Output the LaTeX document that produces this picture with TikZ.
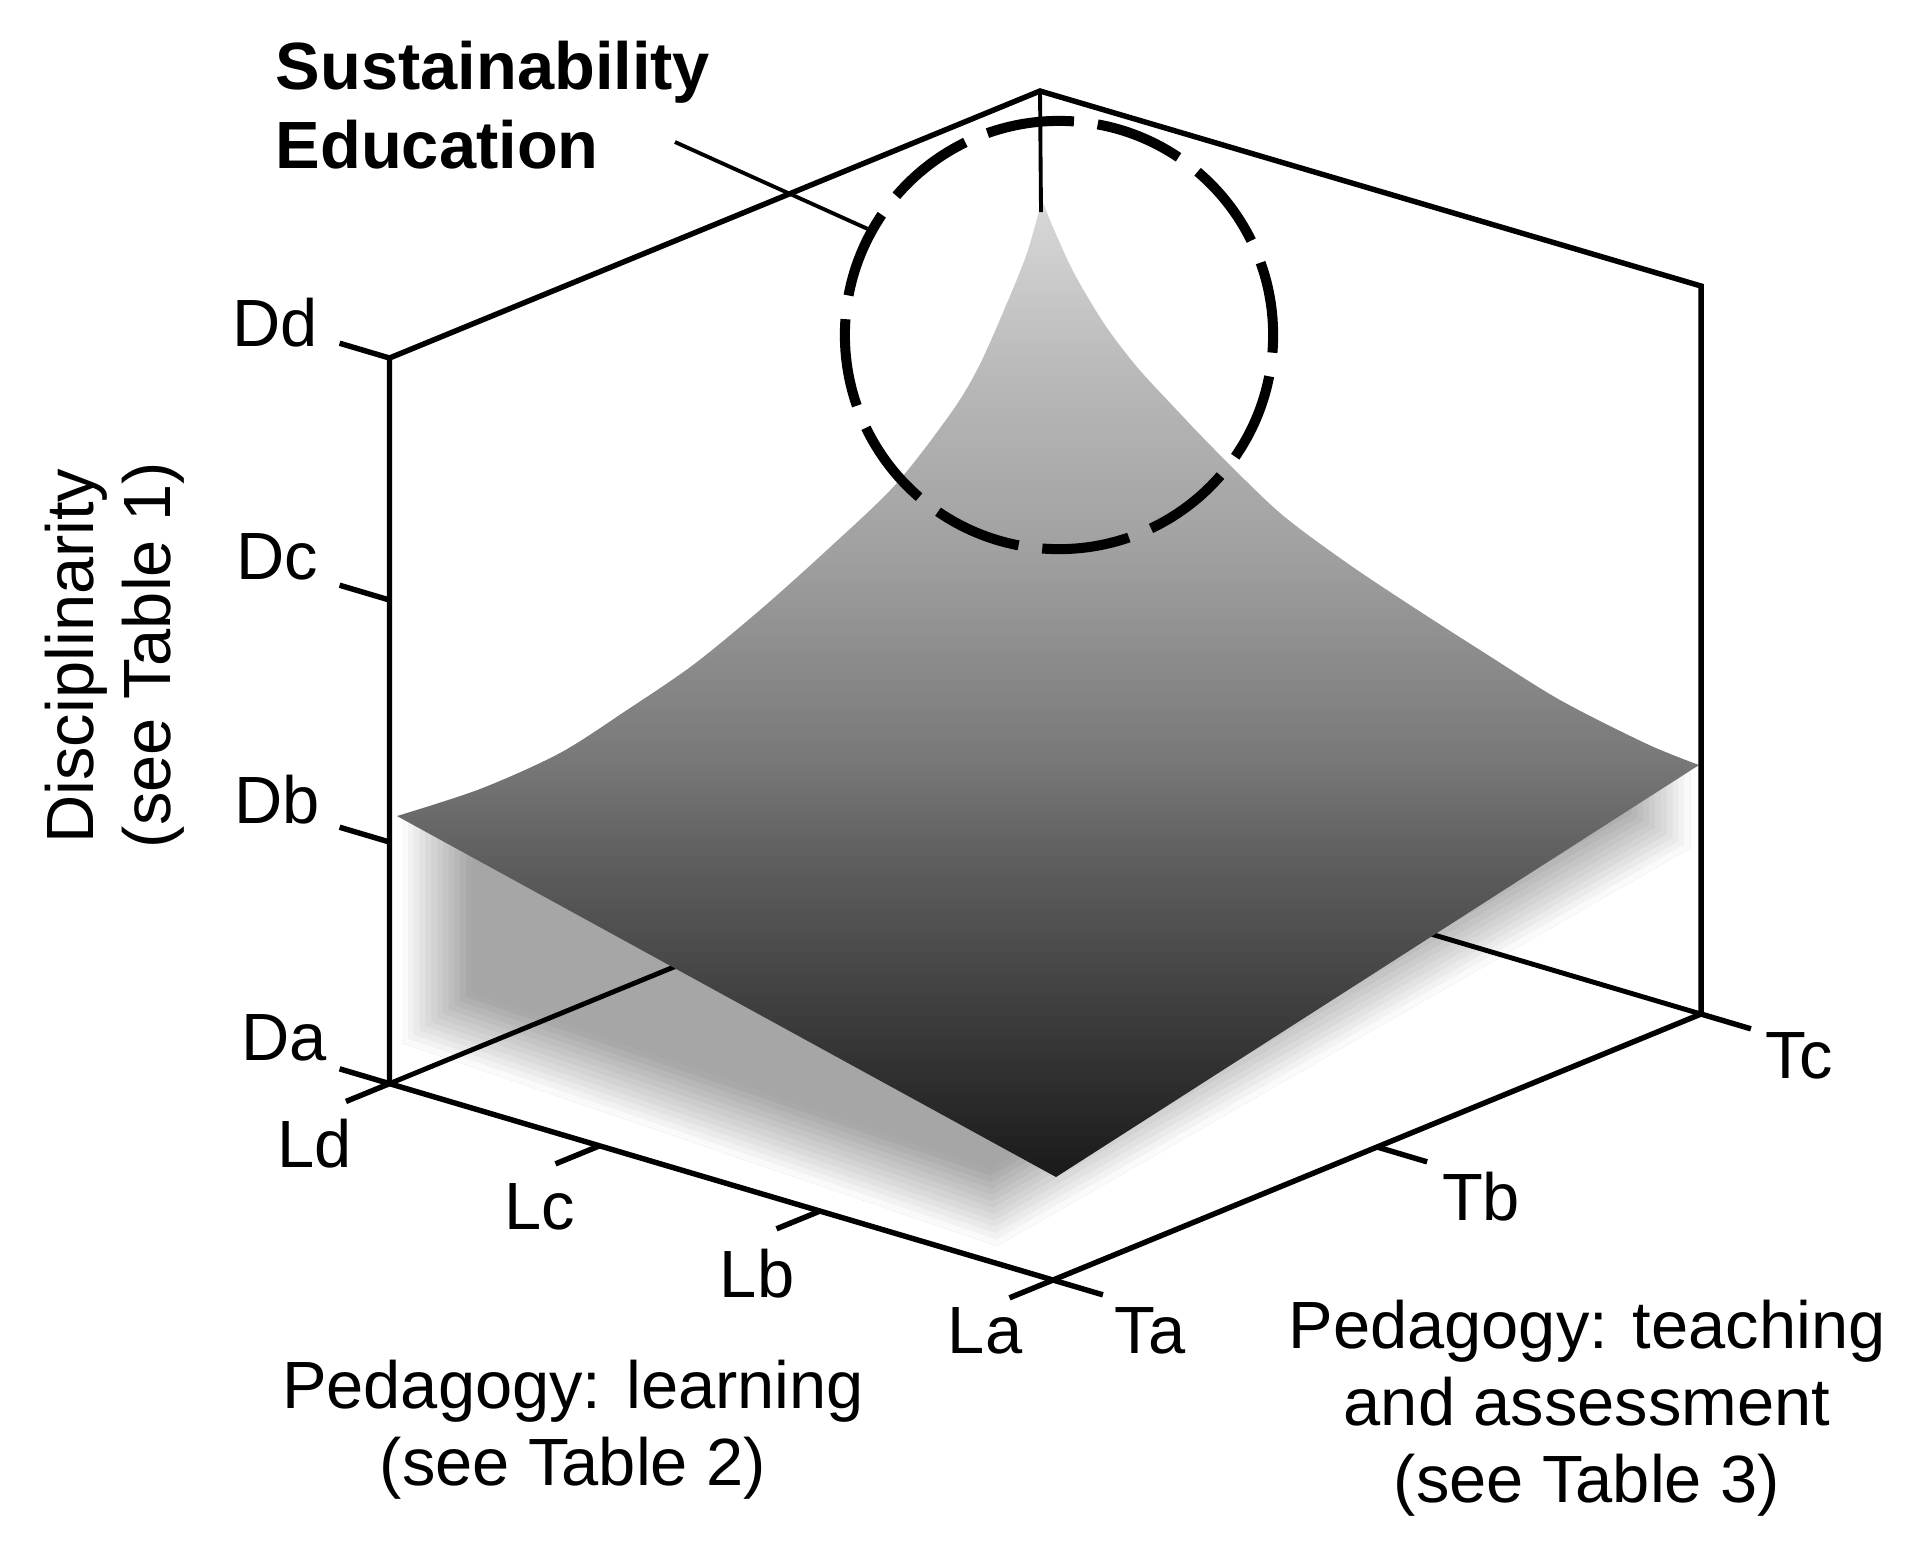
\documentclass[tikz,border=0pt]{standalone}
\usepackage{fontspec}
\setmainfont{Liberation Sans}
\definecolor{sA}{gray}{0.10}
\definecolor{sB}{gray}{0.37}
\definecolor{sC}{gray}{0.47}
\definecolor{sD}{gray}{0.63}
\definecolor{sE}{gray}{0.72}
\definecolor{sF}{gray}{0.85}
\definecolor{shadowgray}{gray}{0.65}
\pgfdeclareverticalshading{surf}{100bp}{color(0bp)=(sA); color(25bp)=(sA); color(41.22bp)=(sB); color(46.34bp)=(sC); color(57.09bp)=(sD); color(65.79bp)=(sE); color(75bp)=(sF); color(100bp)=(sF)}
\tikzset{
  lab/.style={font=\fontsize{19pt}{21.9pt}\selectfont, inner sep=0pt},
  axisline/.style={line width=1.55pt, line cap=butt, line join=miter},
  backline/.style={line width=1.4pt},
  tickline/.style={line width=1.55pt},
  fade/.style={white, line join=round, line cap=butt}
}
\begin{document}
\begin{tikzpicture}[x=0.01cm, y=-0.01cm]
\useasboundingbox (0,0) rectangle (1919,1562);
\fill[white] (0,0) rectangle (1919,1562);

% cube corners
\coordinate (O)   at (1053,1280);
\coordinate (Ld)  at (389.5,1083.6);
\coordinate (Tc)  at (1701,1014);
\coordinate (Dd)  at (389.5,358);
\coordinate (RT)  at (1701,286);
\coordinate (Top) at (1040,91);
\coordinate (B)   at (1038,817.6);
\coordinate (Apx) at (1041,212);

% soft shadow under the surface
\begin{scope}
  \clip (402,818) -- (402,1043) -- (997,1246) -- (1690,848) -- (1690,772)
        -- (1500,800) -- (1040,700) -- (700,800) -- cycle;
  \fill[shadowgray] (0,0) rectangle (1919,1562);
  \foreach \w/\a in {39.84/0.042, 36.52/0.087, 33.2/0.095, 29.88/0.105, 26.56/0.118, 23.24/0.133, 19.92/0.154, 16.6/0.182, 13.28/0.222, 9.96/0.286, 6.64/0.4, 3.32/0.667}
    \draw[fade, opacity=\a, line width=\w pt] (402,818) -- (402,1043) -- (997,1246) -- (1690,848) -- (1690,772);
\end{scope}

% hidden back edges
\draw[backline] (Ld) -- (B);
\draw[backline] (Tc) -- (B);

% curved surface
\begin{scope}
  \clip plot[smooth, tension=0.5] coordinates {(397,816) (480,789) (560,753) (627,710) (693,665) (760,610) (827,550) (896,484) (953,410) (980,364) (1007,303) (1027,253) (1042,200)}
     -- plot[smooth, tension=0.5] coordinates {(1042,200) (1055,232) (1075,275) (1105,325) (1137,367) (1172,405) (1215,450) (1280,513) (1347,563) (1413,607) (1480,650) (1560,700) (1647,744) (1699,765)}
     -- (1056,1177) -- cycle;
  \shade[shading=surf] (380,200) rectangle (1710,1177);
\end{scope}

% back vertical edge above the apex
\draw[line width=1.1pt] (Top) -- (Apx);

% front frame
\draw[axisline] (Ld) -- (Dd) -- (Top) -- (RT) -- (Tc);
\draw[axisline] (Ld) -- (O) -- (Tc);

% tick marks
\coordinate (tDc) at (389.5,600);
\coordinate (tDb) at (389.5,842);
\coordinate (tLc) at (599,1146);
\coordinate (tLb) at (820,1211);
\coordinate (tTb) at (1377.2,1147);
\draw[tickline] (Dd) -- ++(-49.9,-14.8);
\draw[tickline] (tDc) -- ++(-49.9,-14.8);
\draw[tickline] (tDb) -- ++(-49.9,-14.8);
\draw[tickline] (Ld) -- ++(-49.9,-14.8);
\draw[tickline] (Ld) -- ++(-43.5,17.8);
\draw[tickline] (tLc) -- ++(-43.5,17.8);
\draw[tickline] (tLb) -- ++(-43.5,17.8);
\draw[tickline] (O) -- ++(-43.5,17.8);
\draw[tickline] (O) -- ++(49.9,14.8);
\draw[tickline] (tTb) -- ++(49.9,14.8);
\draw[tickline] (Tc) -- ++(49.9,14.8);

% highlighted region
\node[draw, circle, line width=2.85pt, minimum size=4.28cm, inner sep=0pt,
      dash pattern=on 25pt off 6.8pt, dash phase=4pt] (focus) at (1059,335) {};
\coordinate (lead) at (675,142);
\draw[line width=1.1pt] (lead) -- (focus.151.7);

% labels
\node[lab, font=\fontsize{19pt}{21.9pt}\selectfont\bfseries, anchor=base west] (sus) at (275,89) {Sustainability};
\node[lab, font=\fontsize{19pt}{21.9pt}\selectfont\bfseries, anchor=base west] (edu) at (275,168) {Education};

\node[lab] (lDd) at (275,323) {Dd};
\node[lab] (lDc) at (277,557) {Dc};
\node[lab] (lDb) at (277,800) {Db};
\node[lab] (lDa) at (284,1038) {Da};
\node[lab] (lLd) at (315,1144) {Ld};
\node[lab] (lLc) at (540,1207) {Lc};
\node[lab] (lLb) at (757,1274) {Lb};
\node[lab] (lLa) at (985,1331) {La};
\node[lab] (lTa) at (1150,1331) {Ta};
\node[lab] (lTb) at (1481,1197) {Tb};
\node[lab] (lTc) at (1799,1056) {Tc};

\node[lab, rotate=90] (disc) at (76,656) {Disciplinarity};
\node[lab, rotate=90] (tab1) at (153,655) {(see Table 1)};
\node[lab, align=center] (learn) at (573,1430) {Pedagogy: learning\\(see Table 2)};
\node[lab, align=center] (teach) at (1587,1408) {Pedagogy: teaching\\and assessment\\(see Table 3)};
\end{tikzpicture}
\end{document}
